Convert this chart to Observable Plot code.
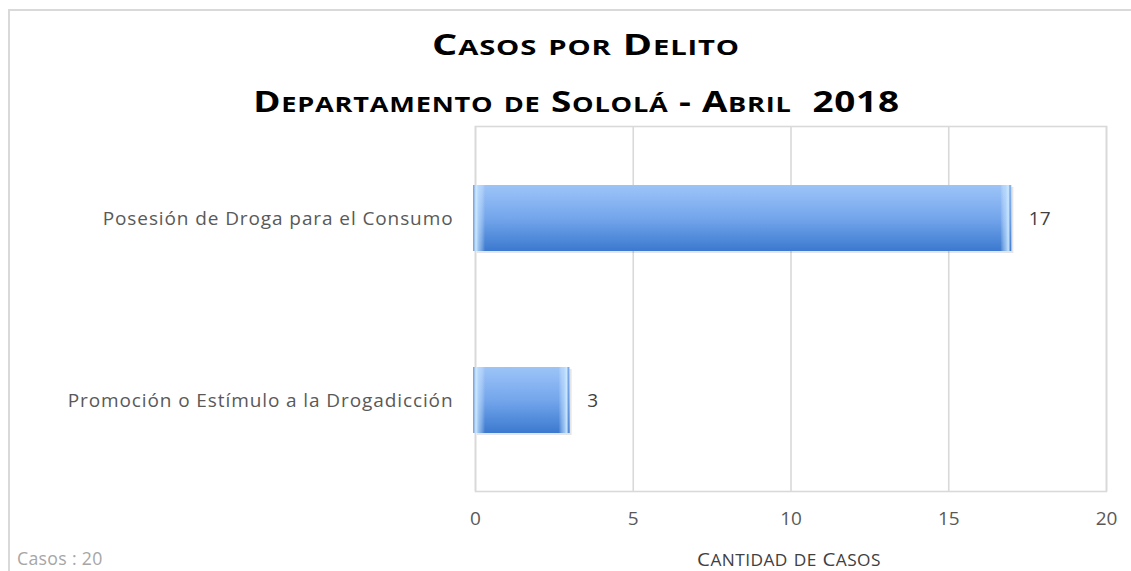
<!DOCTYPE html>
<html>
<head>
<meta charset="utf-8">
<script src="https://cdn.jsdelivr.net/npm/d3@7"></script>
<script src="https://cdn.jsdelivr.net/npm/@observablehq/plot@0.6"></script>
<style>
  html, body { margin: 0; padding: 0; background: #fff; overflow: hidden; }
  #wrap { position: relative; width: 1131px; height: 571px; overflow: hidden; font-family: "Open Sans", sans-serif; }
  #border { position: absolute; left: 8px; top: 9px; width: 1300px; height: 800px; border: 2px solid #d9d9d9; box-sizing: border-box; }
  #chart { position: absolute; left: 0; top: 0; }
  #overlay { position: absolute; left: 0; top: 0; pointer-events: none; }
</style>
</head>
<body>
<div id="wrap">
  <div id="border"></div>
  <div id="chart"></div>
  <svg id="overlay" width="1131" height="571" font-family="Open Sans, sans-serif"></svg>
</div>
<script>
// ---- data ----
const categories = ["Posesión de Droga para el Consumo", "Promoción o Estímulo a la Drogadicción"];
const values = [17, 3];
const xTicks = [0, 5, 10, 15, 20];
const titleLines = ["Casos por Delito", "Departamento de Sololá - Abril  2018"];
const xAxisLabel = "Cantidad de Casos";
const noteText = "Casos : 20";

const data = categories.map((c, i) => ({cat: c, value: values[i]}));

// ---- text helpers (manual small caps; width matched by horizontal stretch or font size) ----
const ns = "http://www.w3.org/2000/svg";
const overlay = document.getElementById("overlay");
function addText({text, x, y, anchor = "middle", big, small = null, weight = "normal", fill = "#000", width = null, spacing = 0, stretch = false}) {
  const g = document.createElementNS(ns, "g");
  const t = document.createElementNS(ns, "text");
  t.setAttribute("text-anchor", anchor);
  t.setAttribute("font-weight", weight);
  t.setAttribute("fill", fill);
  t.setAttribute("xml:space", "preserve");
  t.style.whiteSpace = "pre";
  if (spacing) t.style.letterSpacing = spacing + "px";
  const spans = [];
  for (const ch of text) {
    const s = document.createElementNS(ns, "tspan");
    const lower = small != null && ch !== ch.toUpperCase();
    s.dataset.size = lower ? small : big;
    s.setAttribute("font-size", s.dataset.size);
    s.textContent = lower ? ch.toUpperCase() : ch;
    t.appendChild(s);
    spans.push(s);
  }
  g.appendChild(t);
  overlay.appendChild(g);
  let sx = 1;
  if (width) {
    const w = t.getComputedTextLength();
    const k = width / w;
    if (stretch) sx = k;
    else for (const s of spans) s.setAttribute("font-size", (+s.dataset.size * k).toFixed(2));
  }
  g.setAttribute("transform", `translate(${x},${y}) scale(${sx.toFixed(4)},1)`);
  return g;
}

addText({text: titleLines[0], x: 586, y: 55, big: 28.5, small: 21, weight: "bold", fill: "#000", width: 308, spacing: 0.6, stretch: true});
addText({text: titleLines[1], x: 576.5, y: 112, big: 28.5, small: 21, weight: "bold", fill: "#000", width: 647, spacing: 0.6, stretch: true});
addText({text: xAxisLabel, x: 789, y: 566, big: 19, small: 16, fill: "#404040", width: 184, spacing: 0.4, stretch: true});
addText({text: noteText, x: 17, y: 565, anchor: "start", big: 16, fill: "#a6a6a6", width: 86, spacing: 0.3});

const chart = Plot.plot({
  width: 1131,
  height: 571,
  marginTop: 126,
  marginBottom: 80,
  marginLeft: 475,
  marginRight: 25,
  style: {fontFamily: "Open Sans, sans-serif", fontSize: "19px", color: "#595959", background: "transparent", overflow: "visible"},
  x: {domain: [0, 20], ticks: xTicks, label: null},
  y: {domain: categories, paddingInner: 0.64, paddingOuter: 0.32, label: null},
  marks: [
    Plot.gridX(xTicks, {stroke: "#d9d9d9", strokeOpacity: 1, strokeWidth: 1.6}),
    Plot.frame({stroke: "#d9d9d9", strokeWidth: 1.6}),
    Plot.barX(data, {x: "value", y: "cat", fill: "#000", fillOpacity: 0.10, dx: 2, dy: 2}),
    Plot.barX(data, {x: "value", y: "cat", fill: "url(#barGrad)", insetLeft: 1}),
    Plot.barX(data, {x1: 0, x2: 0, y: "cat", fill: "url(#leftHi)", insetLeft: -2, insetRight: -10}),
    Plot.barX(data, {x1: "value", x2: "value", y: "cat", fill: "url(#rightHi)", insetLeft: -11, insetRight: 1}),
    Plot.text(data, {x: "value", y: "cat", text: d => String(d.value), textAnchor: "start", dx: 17, fill: "#404040", fontSize: 19}),
    Plot.axisX(xTicks, {tickSize: 0, tickPadding: 20, label: null, fill: "#595959"}),
    Plot.axisY({tickSize: 0, tickPadding: 22, label: null, fill: "#595959", ariaLabel: "y-axis"})
  ]
});

// category labels are a little more widely spaced in the original
chart.querySelectorAll('g[aria-label="y-axis tick label"] text, g[aria-label="y-axis"] text').forEach(el => {
  el.style.letterSpacing = "0.9px";
});

// gradients used by the bar fills
const defs = document.createElementNS(ns, "defs");
defs.innerHTML = `
  <linearGradient id="barGrad" x1="0" y1="0" x2="0" y2="1">
    <stop offset="0" stop-color="#9dc4f8"/>
    <stop offset="0.5" stop-color="#74a6ec"/>
    <stop offset="1" stop-color="#3b79cf"/>
  </linearGradient>
  <linearGradient id="leftHi" x1="0" y1="0" x2="1" y2="0">
    <stop offset="0" stop-color="#5a8fdc" stop-opacity="0.9"/>
    <stop offset="0.25" stop-color="#d2ecff" stop-opacity="0.95"/>
    <stop offset="0.5" stop-color="#c4e4ff" stop-opacity="0.6"/>
    <stop offset="1" stop-color="#ffffff" stop-opacity="0"/>
  </linearGradient>
  <linearGradient id="rightHi" x1="0" y1="0" x2="1" y2="0">
    <stop offset="0" stop-color="#ffffff" stop-opacity="0"/>
    <stop offset="0.5" stop-color="#c4e4ff" stop-opacity="0.6"/>
    <stop offset="0.8" stop-color="#d2ecff" stop-opacity="0.9"/>
    <stop offset="1" stop-color="#5a8fdc" stop-opacity="0.9"/>
  </linearGradient>`;
chart.insertBefore(defs, chart.firstChild);
document.getElementById("chart").appendChild(chart);
</script>
</body>
</html>
